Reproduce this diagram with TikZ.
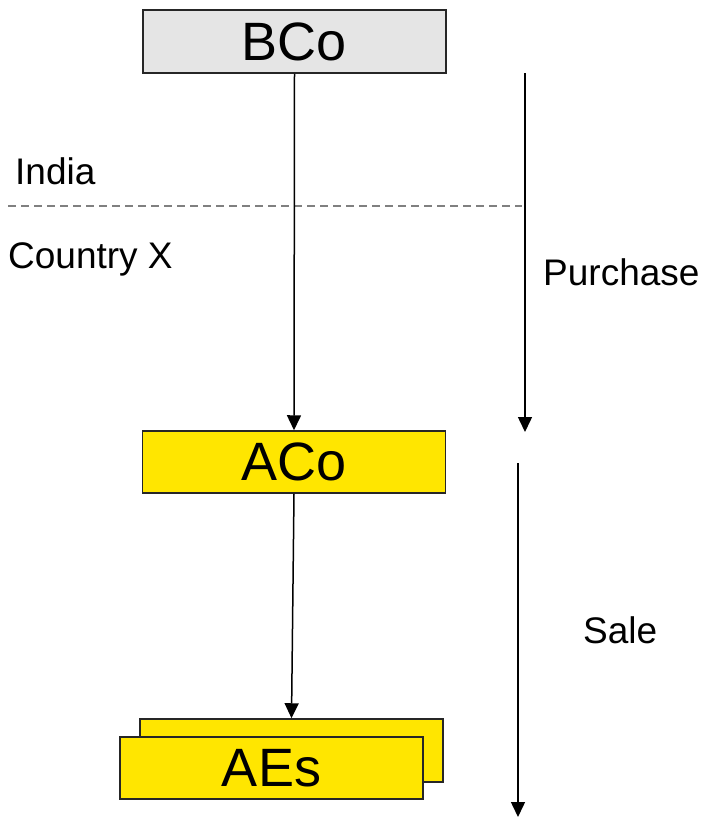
\documentclass[tikz,border=0pt]{standalone}
\usepackage{fontspec}
\setmainfont{Liberation Sans}
\usetikzlibrary{arrows.meta}

\tikzset{
  entity/.style={draw=black!85, line width=1.5pt, minimum width=303pt, minimum height=63pt,
                 inner sep=0pt, font=\fontsize{54}{54}\selectfont},
  label/.style={font=\fontsize{37}{37}\selectfont, inner sep=0pt},
  flow/.style={->, line width=1.5pt},
}

\begin{document}
\begin{tikzpicture}[>={Triangle[length=15pt, width=14pt]}, x=1pt, y=-1pt]
            \useasboundingbox (0,0) rectangle (707,819);
            % borderline between countries
            \draw[gray, line width=1.5pt, dash pattern=on 8pt off 5pt] (8,206) -- (522,206);
            \node[label, anchor=base west] (india) at (15,184) {India};
            \node[label, anchor=base west] (countryx) at (8,268) {Country X};
            % entities
            \node[entity, fill=black!10] (bco) at (294.5,41.5) {BCo};
            \node[entity, fill={rgb,255:red,255;green,230;blue,0}, minimum height=62pt] (aco) at (294,462) {ACo};
            \node[entity, fill={rgb,255:red,255;green,230;blue,0}] (aesback) at (291.5,750.5) {};
            \node[entity, fill={rgb,255:red,255;green,230;blue,0}, minimum height=62pt] (aes) at (271.5,768) {AEs};
            \draw[flow] (bco.south) -- (aco.north);
            \draw[flow] (aco.south) -- (aesback.north);
            % transaction direction
            \coordinate (purchasetop) at (525,73);
            \coordinate (purchasebot) at (525,432);
            \coordinate (saletop) at (518,463);
            \coordinate (salebot) at (518,817);
            \draw[flow] (purchasetop) -- (purchasebot);
            \draw[flow] (saletop) -- (salebot);
            \node[label, anchor=base west] (purchase) at (543,285) {Purchase};
            \node[label, anchor=base west] (sale) at (583,643) {Sale};
        \end{tikzpicture}
\end{document}
